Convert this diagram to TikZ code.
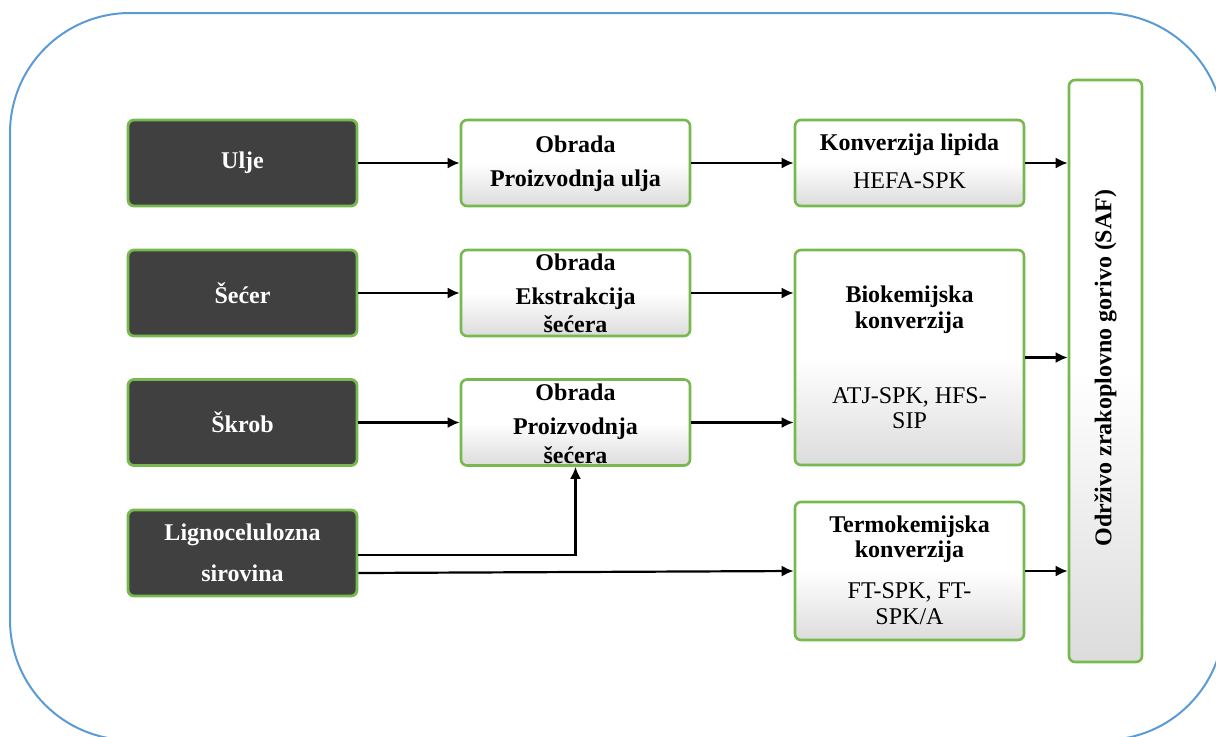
\documentclass[tikz,border=0pt]{standalone}
\usepackage{fontspec}
\setmainfont{Liberation Serif}
\usetikzlibrary{arrows.meta}
\definecolor{outerblue}{HTML}{5B9BD5}
\definecolor{boxgreen}{HTML}{77B94F}
\definecolor{darkfill}{HTML}{404040}
\definecolor{shadegray}{HTML}{DCDCDC}
\tikzset{
  darkbox/.style={draw=boxgreen, line width=1.4pt, fill=darkfill, rounded corners=3pt, inner sep=0pt},
  lightbox/.style={draw=boxgreen, line width=1.3pt, rounded corners=3pt, inner sep=0pt,
    top color=white, bottom color=shadegray, middle color=white},
  arr/.style={-{Latex[length=6pt,width=5.5pt]}, line width=1.1pt},
  wt/.style={text=white, inner sep=0pt, font=\fontsize{12}{14}\selectfont\bfseries},
  bt/.style={inner sep=0pt, font=\fontsize{12}{14}\selectfont\bfseries},
  nt/.style={inner sep=0pt, font=\fontsize{12}{14}\selectfont},
}
\begin{document}
\begin{tikzpicture}[x=0.5pt,y=-0.5pt]
\useasboundingbox (0,0) rectangle (1216,736);
\clip (0,0) rectangle (1216,736);
% outer frame
\draw[outerblue, line width=1pt, rounded corners=60pt] (10,13) rectangle (1224,740);

% left dark boxes
\node[darkbox, minimum width=114.5pt, minimum height=43pt] (ulje) at (242.5,163) {};
\node[darkbox, minimum width=114.5pt, minimum height=43pt] (secer) at (242.5,293) {};
\node[darkbox, minimum width=114.5pt, minimum height=43pt] (skrob) at (242.5,422.5) {};
\node[darkbox, minimum width=114.5pt, minimum height=43pt] (ligno) at (242.5,553) {};
\node[wt] (tulje) at (242.5,163) {Ulje};
\node[wt] (tsecer) at (242.5,293) {Šećer};
\node[wt] (tskrob) at (242.5,422.5) {Škrob};
\node[wt] (tligno1) at (242.5,535) {Lignocelulozna};
\node[wt] (tligno2) at (242.5,573) {sirovina};

% middle boxes
\node[lightbox, minimum width=114.5pt, minimum height=43pt] (ob1) at (575.5,163) {};
\node[lightbox, minimum width=114.5pt, minimum height=43pt] (ob2) at (575.5,293) {};
\node[lightbox, minimum width=114.5pt, minimum height=43pt] (ob3) at (575.5,422.5) {};
\node[bt] (tob1a) at (575.5,144) {Obrada};
\node[bt] (tob1b) at (575.5,181) {Proizvodnja ulja};
\node[bt] (tob2a) at (575.5,262) {Obrada};
\node[bt] (tob2b) at (575.5,299) {Ekstrakcija};
\node[bt] (tob2c) at (575.5,324) {šećera};
\node[bt] (tob3a) at (575.5,392) {Obrada};
\node[bt] (tob3b) at (575.5,429) {Proizvodnja};
\node[bt] (tob3c) at (575.5,455) {šećera};

% right boxes
\node[lightbox, minimum width=114.5pt, minimum height=43pt] (lip) at (909.5,163) {};
\node[lightbox, minimum width=114.5pt, minimum height=107.5pt] (bio) at (909.5,357.5) {};
\node[lightbox, minimum width=114.5pt, minimum height=69pt] (termo) at (909.5,571) {};
\node[bt] (tlipa) at (909.5,145) {Konverzija lipida};
\node[nt] (tlipb) at (909.5,181) {HEFA-SPK};
\node[bt] (tbioa) at (909.5,297) {Biokemijska};
\node[bt] (tbiob) at (909.5,323) {konverzija};
\node[nt] (tbioc) at (909.5,397) {ATJ-SPK, HFS-};
\node[nt] (tbiod) at (909.5,421) {SIP};
\node[bt] (ttera) at (909.5,527) {Termokemijska};
\node[bt] (tterb) at (909.5,552) {konverzija};
\node[nt] (tterc) at (909.5,592) {FT-SPK, FT-};
\node[nt] (tterd) at (909.5,617) {SPK/A};

% SAF box
\node[lightbox, minimum width=36.5pt, minimum height=291pt] (saf) at (1105.5,371) {};
\node[bt, rotate=90] (tsaf) at (1105.5,368) {Održivo zrakoplovno gorivo (SAF)};

% connectors
\draw[arr] (ulje) -- (ob1);
\draw[arr] (secer) -- (ob2);
\draw[arr] (skrob) -- (ob3);
\draw[arr] (ob1) -- (lip);
\draw[arr] (ob2.east) -- (ob2.east -| bio.west);
\draw[arr] (ob3.east) -- (ob3.east -| bio.west);
\draw[arr] (lip.east) -- (lip.east -| saf.west);
\draw[arr] (bio.east) -- (bio.east -| saf.west);
\draw[arr] (termo.east) -- (termo.east -| saf.west);
\draw[arr] ([yshift=-1pt]ligno.east) -| (ob3.south);
\draw[arr] ([yshift=-10pt]ligno.east) -- (termo.west);
\end{tikzpicture}
\end{document}
